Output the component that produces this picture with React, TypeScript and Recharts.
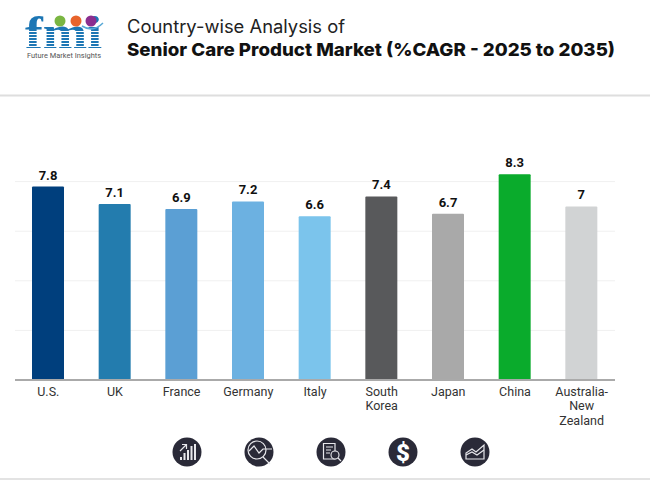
import { BarChart, Bar, XAxis, YAxis, CartesianGrid, Cell, LabelList } from 'recharts'

const countries = ['U.S.', 'UK', 'France', 'Germany', 'Italy', 'South Korea', 'Japan', 'China', 'Australia-New Zealand']
const cagr = [7.8, 7.1, 6.9, 7.2, 6.6, 7.4, 6.7, 8.3, 7]
const tickLines = [['U.S.'], ['UK'], ['France'], ['Germany'], ['Italy'], ['South', 'Korea'], ['Japan'], ['China'], ['Australia-', 'New', 'Zealand']]
const gridTicks = [0, 2, 4, 6, 8]
const barColors = ['#003f7d', '#237cae', '#5b9fd4', '#6cb1e1', '#7bc4ec', '#58595b', '#a9a9a9', '#0aab2c', '#d1d3d4']

const chartData = countries.map((name, i) => ({ name, value: cagr[i] }))

const FONT = 'Roboto, sans-serif'
const TITLE_FONT = 'Inter, sans-serif'
const ICON = '#2a2a38'

function CountryTick({ x, y, index }: any) {
  const lines = tickLines[index] || []
  return (
    <text x={x} y={y} textAnchor="middle" fontFamily={FONT} fontSize={12.5} fill="#333">
      {lines.map((l, i) => (
        <tspan key={l} x={x} dy={i === 0 ? 7.5 : 14.5}>{l}</tspan>
      ))}
    </text>
  )
}

function Logo() {
  const stripes = [31, 34, 37, 40, 43, 46]
  return (
    <g>
      <text x={25} y={48} fontFamily="'Liberation Serif', serif" fontWeight={700} fontSize={47} fill="#1c76b4" textLength={77} lengthAdjust="spacingAndGlyphs">fmi</text>
      {stripes.map((y) => <rect key={y} x={24} y={y} width={80} height={1} fill="#fff" />)}
      <circle cx={60} cy={21} r={5.5} fill="#7ab642" />
      <circle cx={76} cy={21} r={5.5} fill="#e8642c" />
      <circle cx={91} cy={21} r={5.5} fill="#8b2e8f" />
      <path d="M82 26 Q93 33 103 23" fill="none" stroke="#5aa9d6" strokeWidth={1.5} />
      <text x={27} y={58} fontFamily={FONT} fontSize={8} fill="#555" textLength={74} lengthAdjust="spacingAndGlyphs">Future Market Insights</text>
    </g>
  )
}

function Icons() {
  const s = { fill: 'none', stroke: '#e8e8ec', strokeWidth: 1.2 }
  return (
    <g>
      <circle cx={187} cy={452} r={14.5} fill={ICON} />
      <g fill="#e8e8ec">
        <rect x={180} y={457} width={2} height={3} />
        <rect x={183.5} y={453} width={2} height={7} />
        <rect x={187} y={450} width={2} height={10} />
        <rect x={190.5} y={446} width={2} height={14} />
        <rect x={194} y={444} width={2} height={16} />
      </g>
      <path d="M180 451 L186 445 M182 444.5 H186.5 V449" {...s} />

      <circle cx={259} cy={452} r={14.5} fill={ICON} />
      <circle cx={257} cy={450} r={9} {...s} />
      <path d="M249 451 L254 446 L259 453 L263 449 H272 M263 457 L270 464" {...s} />

      <circle cx={331} cy={452} r={14.5} fill={ICON} />
      <path d="M323.5 443.5 H335 V459 H323.5 Z M326 447 H333 M326 450 H331 M326 453 H330" {...s} />
      <circle cx={335} cy={455} r={4} fill={ICON} stroke="#e8e8ec" strokeWidth={1.1} />
      <path d="M338 458 L341 461" {...s} />

      <circle cx={403} cy={452} r={14.5} fill={ICON} />
      <text x={403} y={460.5} textAnchor="middle" fontFamily={FONT} fontWeight={900} fontSize={24} fill="#fff">$</text>

      <circle cx={475} cy={452} r={14.5} fill={ICON} />
      <path d="M466 459 V453 L472 449 L476 452 L484 445 V459 Z" {...s} />
      <path d="M466 455 L472 452 L477 455 L484 450" {...s} />
    </g>
  )
}

export default function App() {
  return (
    <div style={{ position: 'absolute', left: 0, top: 0, width: 650, height: 480, background: '#fff', overflow: 'hidden' }}>
      <svg width={650} height={480} style={{ position: 'absolute', left: 0, top: 0 }}>
        <Logo />
        <text x={127} y={33} fontFamily={TITLE_FONT} fontSize={18} fill="#222" textLength={218} lengthAdjust="spacingAndGlyphs">Country-wise Analysis of</text>
        <text x={127} y={55.5} fontFamily={TITLE_FONT} fontWeight={800} fontSize={18} fill="#111" textLength={488} lengthAdjust="spacingAndGlyphs">Senior Care Product Market (%CAGR - 2025 to 2035)</text>
        <rect x={0} y={94.5} width={650} height={2} fill="#dedede" />
        <rect x={0} y={478} width={650} height={2} fill="#e3e3e3" />
        <Icons />
      </svg>
      <div style={{ position: 'absolute', left: 0, top: 0 }}>
        <BarChart width={650} height={480} data={chartData} margin={{ top: 132, right: 35, bottom: 0, left: 15 }}>
          <CartesianGrid vertical={false} stroke="#f0f0f0" horizontalValues={gridTicks} />
          <XAxis
            dataKey="name"
            interval={0}
            height={100}
            axisLine={{ stroke: '#aaaaaa', strokeWidth: 2 }}
            tickLine={false}
            tick={<CountryTick />}
          />
          <YAxis hide domain={[0, 10]} ticks={gridTicks} />
          <Bar dataKey="value" barSize={32} radius={[1, 1, 0, 0]} isAnimationActive={false}>
            {chartData.map((d, i) => <Cell key={d.name} fill={barColors[i]} />)}
            <LabelList dataKey="value" position="top" offset={7} fontFamily={FONT} fontWeight={700} fontSize={13} fill="#111" />
          </Bar>
        </BarChart>
      </div>
    </div>
  )
}
